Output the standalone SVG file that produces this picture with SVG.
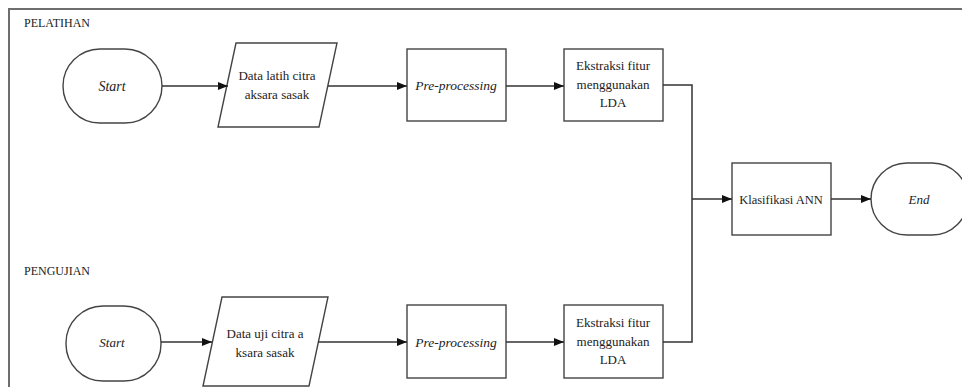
<svg xmlns="http://www.w3.org/2000/svg" width="962" height="387" viewBox="0 0 962 387" font-family="Liberation Serif, Times New Roman, serif">
  <defs>
    <marker id="arrow" markerWidth="10" markerHeight="8" refX="10" refY="4" orient="auto" markerUnits="userSpaceOnUse">
      <path d="M0,0 L10,4 L0,8 Z" fill="#111"/>
    </marker>
    <style>
      .frame { fill: none; stroke: #6e6e6e; stroke-width: 2; }
      .shape { fill: #fff; stroke: #444; stroke-width: 1.4; }
      .edge { fill: none; stroke: #333; stroke-width: 1.5; }
      .arrow { marker-end: url(#arrow); }
      .lbl { font-size: 13px; text-anchor: middle; fill: #222; }
      .it { font-style: italic; }
      .big { font-size: 14px; }
      .prep { font-size: 13.5px; }
      .ann { font-size: 12.5px; }
      .sec { font-size: 12px; fill: #222; }
    </style>
  </defs>
  <rect width="962" height="387" fill="#fff"/>

  <!-- outer frame (right and bottom sides run off the canvas) -->
  <path class="frame" d="M9,387 L9,9 L962,9"/>

  <text class="sec" x="24" y="27">PELATIHAN</text>
  <text class="sec" x="24" y="275">PENGUJIAN</text>

  <!-- training row -->
  <g id="start-train">
    <rect class="shape" x="63" y="49" width="99" height="74" rx="37" ry="37"/>
    <text class="lbl it big" x="112" y="91">Start</text>
  </g>
  <g id="data-train">
    <polygon class="shape" points="236,43 337,43 319,127 218,127"/>
    <text class="lbl" x="277" y="80">Data latih citra</text>
    <text class="lbl" x="277" y="99">aksara sasak</text>
  </g>
  <g id="prep-train">
    <rect class="shape" x="407" y="49" width="99" height="72"/>
    <text class="lbl it prep" x="456" y="90">Pre-processing</text>
  </g>
  <g id="lda-train">
    <rect class="shape" x="564" y="49" width="99" height="72"/>
    <text class="lbl" x="613" y="70">Ekstraksi fitur</text>
    <text class="lbl" x="613" y="89">menggunakan</text>
    <text class="lbl" x="613" y="107">LDA</text>
  </g>

  <!-- testing row -->
  <g id="start-test">
    <rect class="shape" x="66" y="306" width="95" height="75" rx="37" ry="37"/>
    <text class="lbl it" x="112" y="347">Start</text>
  </g>
  <g id="data-test">
    <polygon class="shape" points="222,297 328,297 309,386 203,386"/>
    <text class="lbl" x="265" y="338">Data uji citra a</text>
    <text class="lbl" x="265" y="357">ksara sasak</text>
  </g>
  <g id="prep-test">
    <rect class="shape" x="407" y="305" width="99" height="73"/>
    <text class="lbl it prep" x="456" y="347">Pre-processing</text>
  </g>
  <g id="lda-test">
    <rect class="shape" x="564" y="305" width="99" height="73"/>
    <text class="lbl" x="613" y="327">Ekstraksi fitur</text>
    <text class="lbl" x="613" y="346">menggunakan</text>
    <text class="lbl" x="613" y="364">LDA</text>
  </g>

  <!-- shared tail -->
  <g id="ann">
    <rect class="shape" x="732" y="163" width="99" height="72"/>
    <text class="lbl ann" x="781" y="204">Klasifikasi ANN</text>
  </g>
  <g id="end">
    <rect class="shape" x="871" y="163" width="97" height="72" rx="36" ry="36"/>
    <text class="lbl it" x="919" y="204">End</text>
  </g>

  <!-- connectors -->
  <g id="connectors">
    <path class="edge arrow" d="M162,86 L228,86"/>
    <path class="edge arrow" d="M328,86 L407,86"/>
    <path class="edge arrow" d="M506,86 L564,86"/>
    <path class="edge" d="M663,85 L692,85 L692,342 L663,342"/>
    <path class="edge arrow" d="M161,342 L212,342"/>
    <path class="edge arrow" d="M318,342 L407,342"/>
    <path class="edge arrow" d="M506,342 L564,342"/>
    <path class="edge arrow" d="M692,199 L732,199"/>
    <path class="edge arrow" d="M831,199 L871,199"/>
  </g>
</svg>
